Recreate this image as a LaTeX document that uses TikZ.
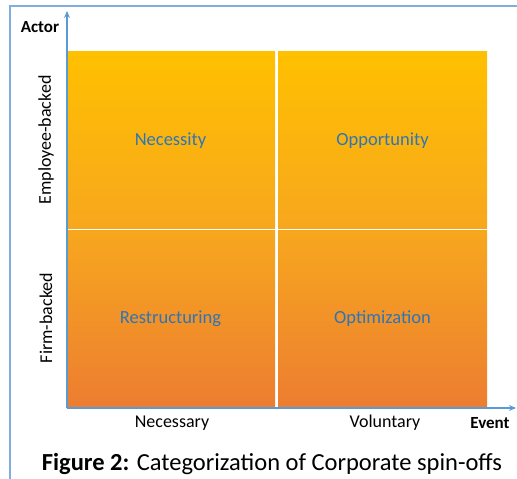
\documentclass[tikz,border=0pt]{standalone}
\usepackage{fontspec}
\setmainfont{Carlito}
\usetikzlibrary{arrows.meta}
\definecolor{cTop}{HTML}{FFC000}
\definecolor{cMid}{HTML}{F7A71E}
\definecolor{cBot}{HTML}{ED7D31}
\definecolor{axisblue}{HTML}{5B9BD5}
\definecolor{txtblue}{HTML}{2E75B6}
\definecolor{framblue}{HTML}{7FAEDF}
\begin{document}
\begin{tikzpicture}[x=1pt,y=1pt,
  quad/.style={minimum width=209pt,minimum height=176.5pt,inner sep=0pt,
    text=txtblue,font=\fontsize{18.5}{22}\selectfont},
  upper/.style={quad,top color=cTop,bottom color=cMid},
  lower/.style={quad,top color=cMid,bottom color=cBot},
  axis/.style={draw=axisblue,line width=1.3pt,-{Stealth[length=7pt,width=6pt]}},
  lbl/.style={font=\fontsize{18}{21}\selectfont,text=black},
  blbl/.style={font=\fontsize{17}{20}\selectfont\bfseries,text=black}]
\useasboundingbox (0,0) rectangle (517,479);
% frame
\draw[framblue,line width=1.5pt] (10,-2) -- (10,473) -- (520,473);
% quadrants
\node[upper] (nec) at (170.5,338.75) {Necessity};
\node[upper] (opp) at (382.5,338.75) {Opportunity};
\node[lower] (res) at (170.5,160.25) {Restructuring};
\node[lower] (opt) at (382.5,160.25) {Optimization};
% axes
\coordinate (o) at (67,71);
\coordinate (ytip) at (67,468);
\coordinate (xtip) at (516,71);
\draw[axis] (o) -- (ytip);
\draw[axis] (o) -- (xtip);
% labels
\node[blbl] (actor) at (40,452) {Actor};
\node[lbl,rotate=90] (emp) at (46,339) {Employee-backed};
\node[lbl,rotate=90] (firm) at (46,161) {Firm-backed};
\node[lbl] (necy) at (172,56) {Necessary};
\node[lbl] (vol) at (385,56) {Voluntary};
\node[blbl] (ev) at (490,56) {Event};
\node[font=\fontsize{24.5}{28}\selectfont] (cap) at (272,15) {\textbf{Figure 2:} Categorization of Corporate spin-offs};
\end{tikzpicture}
\end{document}
